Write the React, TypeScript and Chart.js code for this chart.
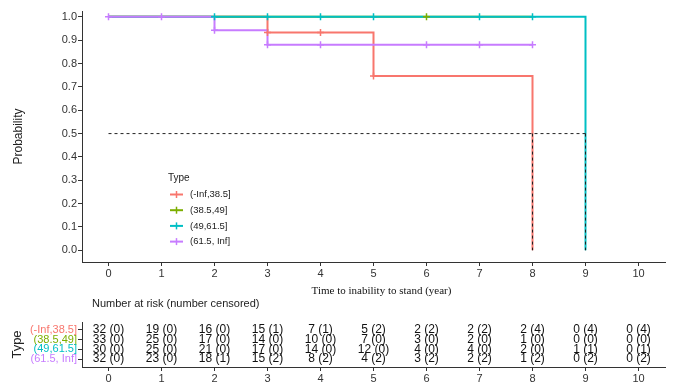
import React, { useEffect, useRef } from "react";
import { Chart, registerables } from "chart.js";

Chart.register(...registerables);

// Groups (age bands) and their colours
const groups = ["(-Inf,38.5]", "(38.5,49]", "(49,61.5]", "(61.5, Inf]"];
const groupColors = ["#F8766D", "#7CAE00", "#00BFC4", "#C77CFF"];

// Kaplan–Meier step points: time (year) and survival probability after each step
const redTimes = [0, 3, 5, 8];
const redSurv = [1, 0.933, 0.747, 0];
const greenTimes = [0, 8];
const greenSurv = [1, 1];
const tealTimes = [0, 9];
const tealSurv = [1, 0];
const purpleTimes = [0, 2, 3, 8];
const purpleSurv = [1, 0.943, 0.88, 0.88];

// Censoring marks
const redCensorTimes = [3, 4, 5];
const redCensorSurv = [0.933, 0.933, 0.747];
const greenCensorTimes = [6];
const greenCensorSurv = [1];
const tealCensorTimes = [2, 3, 4, 5, 7, 8];
const tealCensorSurv = [1, 1, 1, 1, 1, 1];
const purpleCensorTimes = [0, 1, 2, 3, 4, 6, 7, 8];
const purpleCensorSurv = [1, 1, 0.943, 0.88, 0.88, 0.88, 0.88, 0.88];

// Median survival guide
const medianLevel = 0.5;
const medianTimes = [8, 9];

// Axis ticks
const xTicks = [0, 1, 2, 3, 4, 5, 6, 7, 8, 9, 10];
const yTicks = [0, 0.1, 0.2, 0.3, 0.4, 0.5, 0.6, 0.7, 0.8, 0.9, 1.0];

// Number at risk (number censored) table
const tableTimes = [0, 1, 2, 3, 4, 5, 6, 7, 8, 9, 10];
const redAtRisk = [32, 19, 16, 15, 7, 5, 2, 2, 2, 0, 0];
const redCensored = [0, 0, 0, 1, 1, 2, 2, 2, 4, 4, 4];
const greenAtRisk = [33, 25, 17, 14, 10, 7, 3, 2, 1, 0, 0];
const greenCensored = [0, 0, 0, 0, 0, 0, 0, 0, 0, 0, 0];
const tealAtRisk = [30, 25, 21, 17, 14, 12, 4, 4, 2, 1, 0];
const tealCensored = [0, 0, 0, 0, 0, 0, 0, 0, 0, 1, 1];
const purpleAtRisk = [32, 23, 18, 15, 8, 4, 3, 2, 1, 0, 0];
const purpleCensored = [0, 0, 1, 2, 2, 2, 2, 2, 2, 2, 2];

const SANS = "'Liberation Sans', Arial, sans-serif";
const SERIF = "'Liberation Serif', 'Times New Roman', serif";
const AXIS = "#333333";
const TEXT = "#222222";

const W = 673;
const MAIN_H = 300;
const TABLE_TOP = 290;
const TABLE_H = 98;

const pts = (xs: number[], ys: number[]) => xs.map((x, i) => ({ x, y: ys[i] }));

const stepSets = [
  pts(redTimes, redSurv),
  pts(greenTimes, greenSurv),
  pts(tealTimes, tealSurv),
  pts(purpleTimes, purpleSurv),
];
const censorSets = [
  pts(redCensorTimes, redCensorSurv),
  pts(greenCensorTimes, greenCensorSurv),
  pts(tealCensorTimes, tealCensorSurv),
  pts(purpleCensorTimes, purpleCensorSurv),
];
const atRiskSets = [redAtRisk, greenAtRisk, tealAtRisk, purpleAtRisk];
const censoredSets = [redCensored, greenCensored, tealCensored, purpleCensored];

// Legend drawn inside the plot panel
const legendPlugin = {
  id: "kmLegend",
  afterDraw(chart: any) {
    const ctx = chart.ctx;
    ctx.save();
    ctx.textBaseline = "middle";
    ctx.textAlign = "left";
    ctx.fillStyle = TEXT;
    ctx.font = `10px ${SANS}`;
    ctx.fillText("Type", 168, 178);
    groups.forEach((g, i) => {
      const y = 194.5 + i * 15.7;
      ctx.strokeStyle = groupColors[i];
      ctx.lineWidth = 2;
      ctx.beginPath();
      ctx.moveTo(170, y);
      ctx.lineTo(183, y);
      ctx.stroke();
      ctx.lineWidth = 1.5;
      ctx.beginPath();
      ctx.moveTo(176.5, y - 3.5);
      ctx.lineTo(176.5, y + 3.5);
      ctx.stroke();
      ctx.fillStyle = TEXT;
      ctx.font = `9.5px ${SANS}`;
      ctx.fillText(g, 190, y);
    });
    // x axis title
    ctx.textAlign = "center";
    ctx.fillStyle = "#111";
    ctx.font = `11px ${SERIF}`;
    const area = chart.chartArea;
    ctx.fillText("Time to inability to stand (year)", (area.left + area.right) / 2 + 8, 291.5);
    ctx.restore();
  },
};

// Risk table text, placed at each dataset point
const tablePlugin = {
  id: "riskTable",
  afterDatasetsDraw(chart: any) {
    const ctx = chart.ctx;
    ctx.save();
    ctx.textBaseline = "middle";
    ctx.textAlign = "left";
    ctx.fillStyle = TEXT;
    ctx.font = `11px ${SANS}`;
    ctx.fillText("Number at risk (number censored)", 92, 14);
    ctx.textAlign = "center";
    ctx.fillStyle = "#111";
    ctx.font = `12px ${SANS}`;
    chart.data.datasets.forEach((_: any, d: number) => {
      const meta = chart.getDatasetMeta(d);
      meta.data.forEach((el: any, i: number) => {
        ctx.fillText(`${atRiskSets[d][i]} (${censoredSets[d][i]})`, el.x, el.y);
      });
    });
    ctx.restore();
  },
};

export default function App() {
  const mainRef = useRef<HTMLCanvasElement | null>(null);
  const tableRef = useRef<HTMLCanvasElement | null>(null);

  useEffect(() => {
    if (!mainRef.current || !tableRef.current) return;

    const lineSets = stepSets.map((data, i) => ({
      type: "line" as const,
      label: groups[i],
      data,
      stepped: "before" as const,
      borderColor: groupColors[i],
      borderWidth: 2,
      pointRadius: 0,
      fill: false,
      order: 8 - i,
    }));
    const markSets = censorSets.map((data, i) => ({
      type: "scatter" as const,
      label: groups[i] + " censored",
      data,
      pointStyle: "cross",
      pointRadius: 3.5,
      pointBorderWidth: 1.5,
      borderColor: groupColors[i],
      backgroundColor: groupColors[i],
      showLine: false,
      order: 4 - i,
    }));
    const medianLine = {
      type: "line" as const,
      label: "median",
      data: [
        { x: 0, y: medianLevel },
        { x: medianTimes[1], y: medianLevel },
      ],
      borderColor: "#222",
      borderWidth: 1,
      borderDash: [3, 3],
      pointRadius: 0,
      fill: false,
      order: 0,
    };
    const medianDrops = medianTimes.map((t) => ({
      type: "line" as const,
      label: "median drop",
      data: [
        { x: t, y: medianLevel },
        { x: t, y: 0 },
      ],
      borderColor: "#222",
      borderWidth: 1,
      borderDash: [3, 3],
      pointRadius: 0,
      fill: false,
      order: 0,
    }));

    const main = new Chart(mainRef.current, {
      type: "line",
      data: { datasets: [...lineSets, ...markSets, medianLine, ...medianDrops] as any },
      options: {
        responsive: false,
        animation: false,
        layout: { padding: { left: 0, right: 8, top: 11, bottom: 0 } },
        plugins: { legend: { display: false }, tooltip: { enabled: false } },
        scales: {
          x: {
            type: "linear",
            min: -0.5,
            max: 10.5,
            afterBuildTicks: (s: any) => {
              s.ticks = xTicks.map((v) => ({ value: v }));
            },
            afterFit: (s: any) => {
              s.height = MAIN_H - 262;
            },
            ticks: {
              autoSkip: false,
              maxRotation: 0,
              padding: 1,
              color: AXIS,
              font: { family: SANS, size: 11 },
            },
            grid: { drawOnChartArea: false, drawTicks: true, tickLength: 4, color: AXIS },
            border: { display: true, color: AXIS, width: 1 },
          },
          y: {
            type: "linear",
            min: -0.05,
            max: 1.025,
            afterBuildTicks: (s: any) => {
              s.ticks = yTicks.map((v) => ({ value: v }));
            },
            afterFit: (s: any) => {
              s.width = 82;
            },
            ticks: {
              autoSkip: false,
              padding: 1,
              color: AXIS,
              font: { family: SANS, size: 11 },
              callback: (v: any) => Number(v).toFixed(1),
            },
            title: {
              display: true,
              text: "Probability",
              color: TEXT,
              font: { family: SANS, size: 12 },
              padding: { top: 11, bottom: 0 },
            },
            grid: { drawOnChartArea: false, drawTicks: true, tickLength: 4, color: AXIS },
            border: { display: true, color: AXIS, width: 1 },
          },
        },
      },
      plugins: [legendPlugin],
    });

    const rowValue = (i: number) => groups.length - i;
    const table = new Chart(tableRef.current, {
      type: "scatter",
      data: {
        datasets: groups.map((g, i) => ({
          label: g,
          data: tableTimes.map((t) => ({ x: t, y: rowValue(i) })),
          pointRadius: 0,
        })),
      },
      options: {
        responsive: false,
        animation: false,
        layout: { padding: { left: 0, right: 8, top: 32, bottom: 0 } },
        plugins: { legend: { display: false }, tooltip: { enabled: false } },
        scales: {
          x: {
            type: "linear",
            min: -0.5,
            max: 10.5,
            afterBuildTicks: (s: any) => {
              s.ticks = tableTimes.map((v) => ({ value: v }));
            },
            afterFit: (s: any) => {
              s.height = 21;
            },
            ticks: {
              autoSkip: false,
              maxRotation: 0,
              padding: 1,
              color: AXIS,
              font: { family: SANS, size: 11 },
            },
            grid: { drawOnChartArea: false, drawTicks: true, tickLength: 4, color: AXIS },
            border: { display: true, color: AXIS, width: 1 },
          },
          y: {
            type: "linear",
            min: 0.2,
            max: 4.8,
            afterBuildTicks: (s: any) => {
              s.ticks = groups.map((_, i) => ({ value: rowValue(i) }));
            },
            afterFit: (s: any) => {
              s.width = 82;
            },
            ticks: {
              autoSkip: false,
              padding: 1,
              font: { family: SANS, size: 11 },
              color: (c: any) => groupColors[groups.length - c.tick.value] || AXIS,
              callback: (v: any) => groups[groups.length - Number(v)] ?? "",
            },
            title: {
              display: true,
              text: "Type",
              color: TEXT,
              font: { family: SANS, size: 13 },
              padding: { top: 10, bottom: 0 },
            },
            grid: { drawOnChartArea: false, drawTicks: true, tickLength: 4, color: AXIS },
            border: { display: true, color: AXIS, width: 1 },
          },
        },
      },
      plugins: [tablePlugin],
    });

    return () => {
      main.destroy();
      table.destroy();
    };
  }, []);

  return (
    <div
      style={{
        position: "fixed",
        left: 0,
        top: 0,
        width: W,
        height: 388,
        background: "#fff",
        overflow: "hidden",
      }}
    >
      <canvas
        ref={mainRef}
        width={W}
        height={MAIN_H}
        style={{ position: "absolute", left: 0, top: 0 }}
      />
      <canvas
        ref={tableRef}
        width={W}
        height={TABLE_H}
        style={{ position: "absolute", left: 0, top: TABLE_TOP }}
      />
    </div>
  );
}
